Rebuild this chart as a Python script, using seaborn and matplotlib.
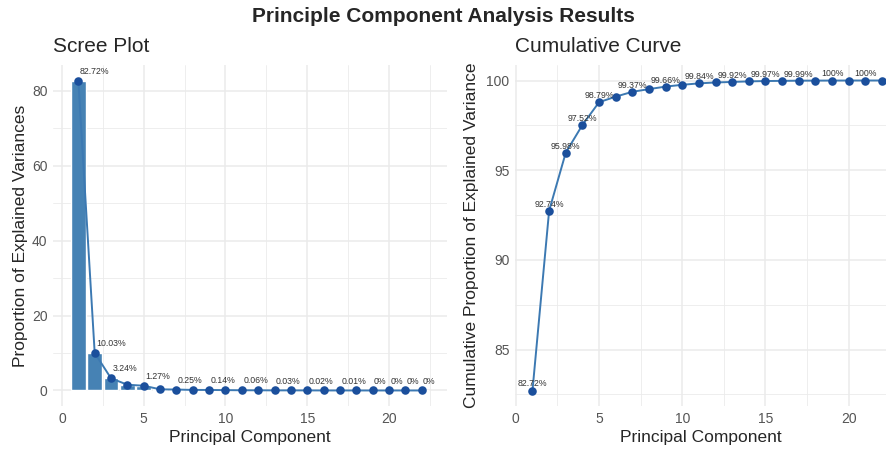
import numpy as np
import pandas as pd
import seaborn as sns
import matplotlib.pyplot as plt
from matplotlib.ticker import MultipleLocator

# 主成分及方差解释比例
pcs = list(range(1, 23))
var_explained = [82.72, 10.03, 3.24, 1.54, 1.27, 0.31, 0.25, 0.15, 0.14, 0.10, 0.06,
                 0.05, 0.03, 0.03, 0.02, 0.01, 0.01, 0.005, 0.004, 0.003, 0.002, 0.001]
cum_explained = [82.72, 92.74, 95.98, 97.52, 98.79, 99.10, 99.37, 99.52, 99.66, 99.76, 99.84,
                 99.89, 99.92, 99.95, 99.97, 99.98, 99.99, 99.994, 99.997, 99.999, 100.0, 100.0]

# 显示标签的主成分（重叠的被省略）
scree_label_pcs = [1, 2, 3, 5, 7, 9, 11, 13, 15, 17, 19, 20, 21, 22]
cum_label_pcs = [1, 2, 3, 4, 5, 7, 9, 11, 13, 15, 17, 19, 21]

df = pd.DataFrame({"PC": pcs, "Var": var_explained, "Cum": cum_explained})

sns.set_theme(style="whitegrid")
plt.rcParams['font.family'] = ['Liberation Sans', 'DejaVu Sans']

bar_col = "#4682B4"
line_col = "#3C79B2"
pt_col = "#1B4F9C"
grid_col = "#EBEBEB"


def fmt(v):
    return f"{round(v, 2):g}%"


def style_axes(ax):
    for s in ax.spines.values():
        s.set_visible(False)
    ax.set_facecolor("white")
    ax.xaxis.set_major_locator(MultipleLocator(5))
    ax.xaxis.set_minor_locator(MultipleLocator(2.5))
    ax.grid(which='major', color=grid_col, linewidth=1.1)
    ax.grid(which='minor', color=grid_col, linewidth=0.6)
    ax.tick_params(which='both', length=0, labelsize=10, labelcolor="#555555", pad=4)
    ax.set_axisbelow(True)


fig = plt.figure(figsize=(8.87, 4.5), dpi=100)
ax1 = fig.add_axes([53 / 887, 1 - 406 / 450, 394 / 887, 341 / 450])
ax2 = fig.add_axes([515 / 887, 1 - 406 / 450, 372 / 887, 341 / 450])

# 碎石图
sns.barplot(data=df, x="PC", y="Var", native_scale=True, width=0.9,
            color=bar_col, saturation=1, ax=ax1)
sns.lineplot(data=df, x="PC", y="Var", color=line_col, linewidth=1.4, ax=ax1)
sns.scatterplot(data=df, x="PC", y="Var", color=pt_col, s=38, edgecolor=pt_col,
                linewidth=0, zorder=4, ax=ax1)
for p in scree_label_pcs:
    v = var_explained[p - 1]
    ax1.annotate(fmt(v), (p, v), xytext=(1, 3.5), textcoords="offset points",
                 ha="left", va="bottom", fontsize=6.3, color="#333333")
ax1.set_xlim(-0.55, 23.55)
ax1.set_ylim(-4.14, 86.86)
ax1.yaxis.set_major_locator(MultipleLocator(20))
ax1.yaxis.set_minor_locator(MultipleLocator(10))
style_axes(ax1)
ax1.set_xlabel("Principal Component", fontsize=12.5, labelpad=3)
ax1.set_ylabel("Proportion of Explained Variances", fontsize=12.5, labelpad=3)
ax1.set_title("Scree Plot", loc="left", fontsize=15, pad=9)

# 累计曲线
sns.lineplot(data=df, x="PC", y="Cum", color=line_col, linewidth=1.4, ax=ax2)
sns.scatterplot(data=df, x="PC", y="Cum", color=pt_col, s=38, edgecolor=pt_col,
                linewidth=0, zorder=4, ax=ax2)
for p in cum_label_pcs:
    v = cum_explained[p - 1]
    ax2.annotate(fmt(v), (p, v), xytext=(0, 1.5), textcoords="offset points",
                 ha="center", va="bottom", fontsize=6.3, color="#333333")
ax2.set_xlim(-0.05, 22.3)
ax2.set_ylim(81.856, 100.864)
ax2.yaxis.set_major_locator(MultipleLocator(5))
ax2.yaxis.set_minor_locator(MultipleLocator(2.5))
style_axes(ax2)
ax2.set_xlabel("Principal Component", fontsize=12.5, labelpad=3)
ax2.set_ylabel("Cumulative Proportion of Explained Variance", fontsize=12.5, labelpad=5)
ax2.set_title("Cumulative Curve", loc="left", fontsize=15, pad=9)

fig.suptitle("Principle Component Analysis Results", fontsize=15, fontweight="bold",
             x=0.5, y=1 - 17 / 450, va="center")

plt.savefig("out.png", dpi=100)
